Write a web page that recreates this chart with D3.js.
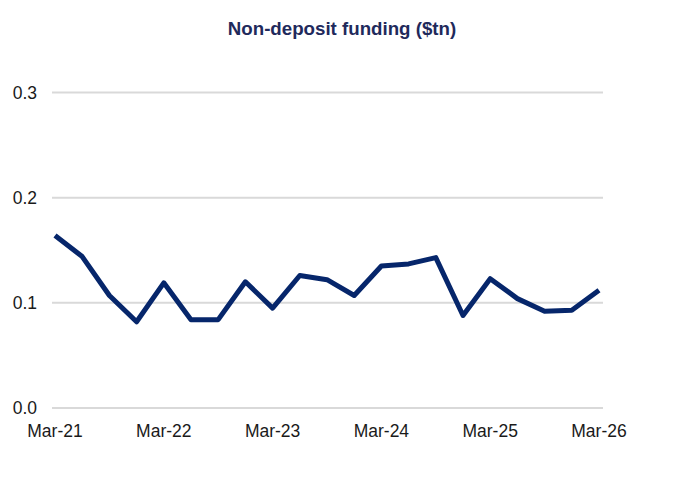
<!DOCTYPE html>
<html>
<head>
<meta charset="utf-8">
<script src="https://cdn.jsdelivr.net/npm/d3@7"></script>
<style>
  body { margin: 0; background: #fff; }
  svg { display: block; font-family: "Liberation Sans", Arial, sans-serif; }
  .grid line { stroke: #d9d9d9; stroke-width: 2; }
  .tick-label { font-size: 17.5px; fill: #1a1a1a; }
  .title { font-size: 18.7px; font-weight: bold; fill: #1f2a5c; }
</style>
</head>
<body>
<svg width="684" height="494"></svg>
<script>
const svg = d3.select('svg');

// quarterly observations, Mar-21 .. Mar-26
const quarters = d3.range(21);
const values = [0.164, 0.144, 0.107, 0.082, 0.119, 0.084, 0.084, 0.120, 0.095, 0.126,
                0.122, 0.107, 0.135, 0.137, 0.143, 0.088, 0.123, 0.104, 0.092, 0.093, 0.112];
const xTickLabels = ['Mar-21', 'Mar-22', 'Mar-23', 'Mar-24', 'Mar-25', 'Mar-26'];
const xTickQuarters = [0, 4, 8, 12, 16, 20];
const yTicks = [0, 0.1, 0.2, 0.3];

const x = d3.scaleLinear().domain([0, 20]).range([55, 599]);
const y = d3.scaleLinear().domain([0, 0.3]).range([408, 92.5]);

svg.append('text')
    .attr('class', 'title')
    .attr('x', 342)
    .attr('y', 35)
    .attr('text-anchor', 'middle')
    .text('Non-deposit funding ($tn)');

const grid = svg.append('g').attr('class', 'grid');
grid.selectAll('line')
    .data(yTicks).enter()
    .append('line')
        .attr('x1', 52)
        .attr('x2', 603)
        .attr('y1', d => y(d))
        .attr('y2', d => y(d));

svg.selectAll('.ylab')
    .data(yTicks).enter()
    .append('text')
        .attr('class', 'tick-label ylab')
        .attr('x', 37)
        .attr('y', d => y(d) + 6)
        .attr('text-anchor', 'end')
        .text(d3.format('.1f'));

svg.selectAll('.xlab')
    .data(xTickQuarters).enter()
    .append('text')
        .attr('class', 'tick-label xlab')
        .attr('x', d => x(d))
        .attr('y', 437)
        .attr('text-anchor', 'middle')
        .text((d, i) => xTickLabels[i]);

const line = d3.line()
    .x(d => x(d))
    .y(d => y(values[d]));

svg.append('path')
    .datum(quarters)
    .attr('d', line)
    .attr('fill', 'none')
    .attr('stroke', '#06266b')
    .attr('stroke-width', 5)
    .attr('stroke-linejoin', 'round');
</script>
</body>
</html>
